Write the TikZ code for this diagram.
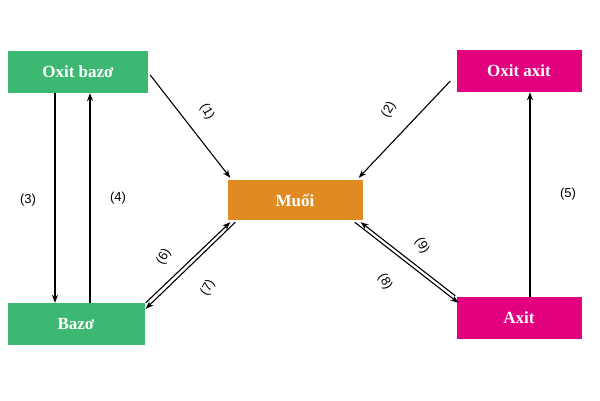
\documentclass[tikz,border=0pt]{standalone}
\usepackage{fontspec}
\setmainfont{Liberation Serif}
\setsansfont{Liberation Sans}
\usetikzlibrary{arrows.meta}
\begin{document}
\begin{tikzpicture}[x=1pt,y=-1pt,
  box/.style={minimum height=42pt,text=white,font=\bfseries\fontsize{17}{19}\selectfont,inner sep=0pt},
  lab/.style={font=\sffamily\fontsize{13}{15}\selectfont},
  arr/.style={-{Stealth[length=8pt,width=6pt]},line width=1.1pt}]
\useasboundingbox (0,0) rectangle (600,400);
\definecolor{gr}{HTML}{3DB873}
\definecolor{mg}{HTML}{E2007E}
\definecolor{og}{HTML}{E08B22}
\node[box,fill=gr,minimum width=140pt] (ob) at (78,72) {Oxit bazơ};
\node[box,fill=mg,minimum width=125pt] (oa) at (519,71) {Oxit axit};
\node[box,fill=og,minimum width=135pt,minimum height=40pt] (mu) at (295,200) {Muối};
\node[box,fill=gr,minimum width=137pt] (bz) at (76,324) {Bazơ};
\node[box,fill=mg,minimum width=125pt] (ax) at (519,318) {Axit};
\draw[arr] ([shift={(2,3)}]ob.east) -- ([shift={(3,-2)}]mu.north west);
\draw[arr] ([shift={(-6,10)}]oa.west) -- ([shift={(-4,-2)}]mu.north east);
\draw[arr] ([xshift=-23pt]ob.south) -- ([xshift=-21pt]bz.north);
\draw[arr] ([xshift=14pt]bz.north) -- ([xshift=12pt]ob.south);
\draw[arr] ([xshift=11pt]ax.north) -- ([xshift=11pt]oa.south);
\draw[arr] ([shift={(1,0)}]bz.north east) -- ([shift={(3,2)}]mu.south west);
\draw[arr] ([shift={(8,2)}]mu.south west) -- ([shift={(1,6)}]bz.north east);
\draw[arr] ([shift={(-8,2)}]mu.south east) -- ([shift={(2,6)}]ax.north west);
\draw[arr] ([shift={(-1,-1)}]ax.north west) -- ([shift={(-2,2)}]mu.south east);
\node[lab,rotate=-60] (l1) at (207,112) {(1)};
\node[lab,rotate=60] (l2) at (389,110) {(2)};
\node[lab] (l3) at (28,200) {(3)};
\node[lab] (l4) at (118,198) {(4)};
\node[lab] (l5) at (568,194) {(5)};
\node[lab,rotate=60] (l6) at (164,257) {(6)};
\node[lab,rotate=60] (l7) at (208,288) {(7)};
\node[lab,rotate=-60] (l8) at (385,282) {(8)};
\node[lab,rotate=-60] (l9) at (422,246) {(9)};
\end{tikzpicture}
\end{document}
